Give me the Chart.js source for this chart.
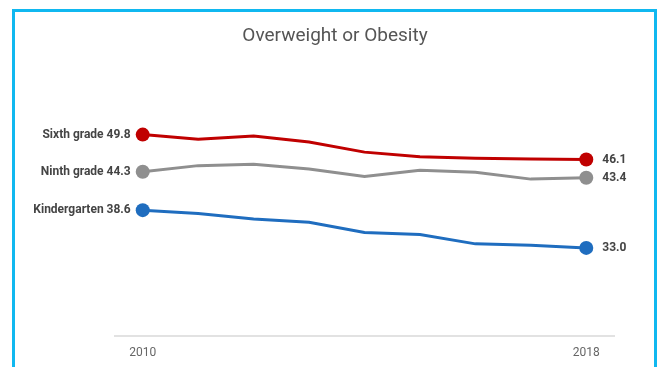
<!DOCTYPE html>
<html>
<head>
<meta charset="utf-8">
<script src="https://cdn.jsdelivr.net/npm/chart.js@4"></script>
<style>
  html, body { margin: 0; padding: 0; background: #fff; }
  #wrap { position: relative; width: 660px; height: 367px; }
  #frame {
    position: absolute; left: 12px; top: 9px; width: 639px; height: 400px;
    border: 3px solid #10b8f0; pointer-events: none;
  }
</style>
</head>
<body>
<div id="wrap">
  <canvas id="obesityChart" width="660" height="367"></canvas>
  <div id="frame"></div>
</div>
<script>
const years = ['2010', '2011', '2012', '2013', '2014', '2015', '2016', '2017', '2018'];
const seriesNames = ['Sixth grade', 'Ninth grade', 'Kindergarten'];
const sixthGrade = [49.8, 49.1, 49.6, 48.7, 47.2, 46.5, 46.3, 46.2, 46.1];
const ninthGrade = [44.3, 45.2, 45.4, 44.7, 43.6, 44.5, 44.2, 43.2, 43.4];
const kindergarten = [38.6, 38.1, 37.3, 36.8, 35.3, 35.0, 33.6, 33.4, 33.0];
const shownTicks = ['2010', '2018'];

const colors = ['#c00000', '#8f8f8f', '#1f6dbf'];

// dots only at the two ends
const endRadius = ctx => (ctx.dataIndex === 0 || ctx.dataIndex === years.length - 1) ? 7 : 0;

const endLabels = {
    id: 'endLabels',
    afterDatasetsDraw(chart) {
        const ctx = chart.ctx;
        ctx.save();
        ctx.font = 'bold 12px Roboto';
        ctx.fillStyle = '#444';
        ctx.textBaseline = 'middle';
        chart.data.datasets.forEach((ds, i) => {
            const pts = chart.getDatasetMeta(i).data;
            const first = pts[0];
            const last = pts[pts.length - 1];
            ctx.textAlign = 'right';
            ctx.fillText(ds.label + ' ' + ds.data[0].toFixed(1), first.x - 12, first.y);
            ctx.textAlign = 'left';
            ctx.fillText(ds.data[ds.data.length - 1].toFixed(1), last.x + 16, last.y);
        });
        ctx.restore();
    }
};

const obesityChart = new Chart(document.getElementById('obesityChart'), {
    type: 'line',
    data: {
        labels: years,
        datasets: [sixthGrade, ninthGrade, kindergarten].map((d, i) => ({
            label: seriesNames[i],
            data: d,
            borderColor: colors[i],
            backgroundColor: colors[i],
            borderWidth: 3,
            tension: 0,
            pointRadius: endRadius,
            pointHoverRadius: endRadius,
            pointBorderWidth: 0
        }))
    },
    options: {
        responsive: false,
        animation: false,
        layout: {
            padding: { left: 56, right: 46, top: 0, bottom: -3 }
        },
        plugins: {
            legend: { display: false },
            tooltip: { enabled: false },
            title: {
                display: true,
                text: 'Overweight or Obesity',
                color: '#555',
                font: { family: 'Roboto', size: 19, weight: 'normal' },
                padding: { top: 25, bottom: 18 }
            }
        },
        scales: {
            x: {
                offset: true,
                grid: { display: false, drawTicks: false },
                border: { display: true, color: '#e2e2e2', width: 2 },
                ticks: {
                    autoSkip: false,
                    maxRotation: 0,
                    padding: 10,
                    color: '#666',
                    font: { family: 'Roboto', size: 12 },
                    callback: function (val) {
                        const lab = this.getLabelForValue(val);
                        return shownTicks.includes(lab) ? lab : '';
                    }
                }
            },
            y: {
                min: 20,
                max: 60,
                grid: { display: false },
                border: { display: false },
                ticks: { display: false },
                afterFit: scale => { scale.width = 59; }
            }
        }
    },
    plugins: [endLabels]
});
</script>
</body>
</html>
